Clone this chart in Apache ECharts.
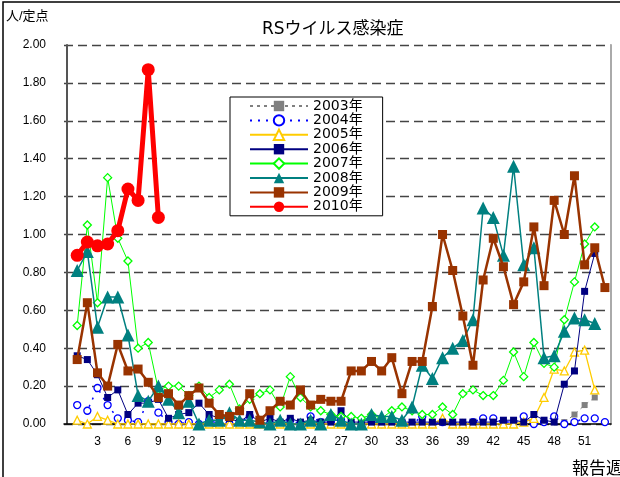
<!DOCTYPE html>
<html>
<head>
<meta charset="utf-8">
<script src="https://cdn.jsdelivr.net/npm/echarts@6/dist/echarts.min.js"></script>
<style>
  html, body { margin: 0; padding: 0; background: #fff; }
  #main { width: 620px; height: 477px; }
</style>
</head>
<body>
<div id="main"></div>
<script>
const weeks = [1, 2, 3, 4, 5, 6, 7, 8, 9, 10, 11, 12, 13, 14, 15, 16, 17, 18, 19, 20,
  21, 22, 23, 24, 25, 26, 27, 28, 29, 30, 31, 32, 33, 34, 35, 36, 37, 38, 39, 40,
  41, 42, 43, 44, 45, 46, 47, 48, 49, 50, 51, 52, 53]
const weekLabels = [3, 6, 9, 12, 15, 18, 21, 24, 27, 30, 33, 36, 39, 42, 45, 48, 51]
const yearNames = ['2003年', '2004年', '2005年', '2006年', '2007年', '2008年', '2009年', '2010年']

const y2003 = [null, null, null, null, null, null, null, null, null, null,
  null, null, null, null, null, null, null, null, null, null,
  null, null, null, null, null, null, null, null, null, null,
  null, null, null, null, null, null, null, null, null, null,
  null, null, null, null, null, null, null, null, 0.01, 0.05,
  0.10, 0.14, null]
const y2004 = [0.10, 0.07, 0.19, 0.10, 0.03, 0.02, 0.01, 0.12, 0.06, 0.01,
  0.00, 0.01, 0.00, 0.02, 0.00, 0.00, 0.01, 0.04, 0.00, 0.00,
  0.01, 0.02, 0.00, 0.04, 0.01, 0.01, 0.02, 0.00, 0.00, 0.01,
  0.00, 0.01, 0.01, 0.00, 0.04, 0.00, 0.01, 0.00, 0.00, 0.01,
  0.03, 0.03, 0.01, 0.01, 0.04, 0.00, 0.01, 0.04, 0.00, 0.01,
  0.03, 0.03, 0.01]
const y2005 = [0.02, 0.00, 0.04, 0.02, 0.00, 0.00, 0.00, 0.00, 0.00, 0.00,
  0.00, 0.00, 0.00, 0.00, 0.00, 0.00, 0.00, 0.00, 0.00, 0.00,
  0.00, 0.00, 0.00, 0.00, 0.00, 0.00, 0.00, 0.00, 0.00, 0.00,
  0.00, 0.00, 0.00, 0.00, 0.00, 0.00, 0.03, 0.00, 0.00, 0.00,
  0.00, 0.00, 0.00, 0.00, 0.01, 0.03, 0.14, 0.29, 0.28, 0.38,
  0.39, 0.18, null]
const y2006 = [0.36, 0.34, 0.26, 0.14, 0.18, 0.05, 0.11, 0.11, 0.13, 0.03,
  0.05, 0.06, 0.11, 0.05, 0.03, 0.03, 0.01, 0.05, 0.01, 0.03,
  0.01, 0.03, 0.01, 0.02, 0.01, 0.01, 0.07, 0.01, 0.01, 0.01,
  0.01, 0.01, 0.01, 0.01, 0.01, 0.01, 0.01, 0.01, 0.01, 0.01,
  0.01, 0.01, 0.02, 0.02, 0.01, 0.05, 0.02, 0.01, 0.21, 0.28,
  0.70, 0.90, null]
const y2007 = [0.52, 1.05, 0.64, 1.30, 0.98, 0.86, 0.40, 0.43, 0.18, 0.20,
  0.20, 0.15, 0.20, 0.14, 0.18, 0.21, 0.08, 0.13, 0.16, 0.18,
  0.09, 0.25, 0.14, 0.09, 0.07, 0.05, 0.04, 0.04, 0.03, 0.05,
  0.03, 0.07, 0.09, 0.07, 0.05, 0.05, 0.09, 0.05, 0.16, 0.18,
  0.15, 0.15, 0.23, 0.38, 0.25, 0.43, 0.32, 0.30, 0.55, 0.75,
  0.95, 1.04, null]
const y2008 = [0.81, 0.91, 0.51, 0.67, 0.67, 0.47, 0.15, 0.12, 0.20, 0.13,
  0.06, 0.12, 0.00, 0.02, 0.02, 0.06, 0.02, 0.02, 0.01, 0.00,
  0.02, 0.00, 0.00, 0.02, 0.00, 0.05, 0.02, 0.00, 0.00, 0.05,
  0.04, 0.04, 0.02, 0.09, 0.31, 0.24, 0.35, 0.40, 0.44, 0.55,
  1.14, 1.09, 0.89, 1.36, 0.84, 0.93, 0.35, 0.36, 0.49, 0.56,
  0.55, 0.53, null]
const y2009 = [0.34, 0.64, 0.27, 0.20, 0.42, 0.28, 0.29, 0.22, 0.14, 0.16,
  0.10, 0.15, 0.19, 0.11, 0.05, 0.04, 0.07, 0.16, 0.02, 0.07,
  0.12, 0.10, 0.18, 0.10, 0.13, 0.12, 0.12, 0.28, 0.28, 0.33,
  0.28, 0.35, 0.16, 0.33, 0.33, 0.62, 1.00, 0.81, 0.57, 0.31,
  0.76, 0.98, 0.83, 0.63, 0.75, 1.04, 0.73, 1.18, 1.00, 1.31,
  0.84, 0.93, 0.72]
const y2010 = [0.89, 0.96, 0.94, 0.95, 1.02, 1.24, 1.18, 1.87, 1.09]

const font = "'Liberation Sans', 'Noto Sans CJK JP', sans-serif"
const wideFont = "'DejaVu Sans', 'Noto Sans CJK JP', sans-serif"

const toPoints = (vals) => {
  const pts = []
  for (let i = 0; i < vals.length; i++) {
    if (vals[i] !== null) pts.push([weeks[i], vals[i]])
  }
  return pts
}

// 系列ごとの見た目
const looks = [
  { color: '#808080', symbol: 'rect', size: 6, width: 1, type: [3, 4], hollow: false },
  { color: '#0000FF', symbol: 'circle', size: 7, width: 1.5, type: [2, 6], hollow: true },
  { color: '#FFCC00', symbol: 'triangle', size: 8, width: 1.3, type: 'solid', hollow: true },
  { color: '#000080', symbol: 'rect', size: 7, width: 1, type: 'solid', hollow: false },
  { color: '#00FF00', symbol: 'diamond', size: 8, width: 1, type: 'solid', hollow: true },
  { color: '#008080', symbol: 'triangle', size: 13, width: 1.5, type: 'solid', hollow: false },
  { color: '#993300', symbol: 'rect', size: 9, width: 2.5, type: 'solid', hollow: false },
  { color: '#FF0000', symbol: 'circle', size: 13, width: 5, type: 'solid', hollow: false }
]
const values = [y2003, y2004, y2005, y2006, y2007, y2008, y2009, y2010]

const series = values.map((vals, i) => {
  const lk = looks[i]
  return {
    name: yearNames[i],
    type: 'line',
    data: toPoints(vals),
    symbol: lk.symbol,
    symbolSize: lk.size,
    lineStyle: { color: lk.color, width: lk.width, type: lk.type },
    itemStyle: lk.hollow
      ? { color: '#fff', borderColor: lk.color, borderWidth: 1.3 }
      : { color: lk.color, borderColor: lk.color, borderWidth: 0 },
    emphasis: { disabled: true },
    z: 2 + i
  }
})

const chart = echarts.init(document.getElementById('main'), null, { renderer: 'canvas' })
chart.setOption({
  animation: false,
  backgroundColor: '#fff',
  textStyle: { fontFamily: font },
  title: {
    text: 'RSウイルス感染症',
    left: 257,
    top: 16,
    textStyle: { fontSize: 17, fontWeight: 'normal', color: '#000', fontFamily: wideFont }
  },
  graphic: [
    {
      type: 'rect',
      shape: { x: 3, y: 2, width: 700, height: 600 },
      style: { fill: null, stroke: '#000', lineWidth: 1.5 },
      silent: true
    },
    {
      type: 'text',
      left: 6,
      top: 10,
      style: { text: '人/定点', fill: '#000', font: '13px ' + font }
    },
    {
      type: 'text',
      left: 572,
      top: 461,
      style: { text: '報告週', fill: '#000', font: '17px ' + font }
    }
  ],
  legend: {
    orient: 'vertical',
    left: 230,
    top: 97,
    padding: [2, 20, 2, 19],
    backgroundColor: '#fff',
    borderColor: '#000',
    borderWidth: 1,
    itemWidth: 58,
    itemHeight: 13,
    itemGap: 0.4,
    data: yearNames,
    textStyle: { fontSize: 14, color: '#000', lineHeight: 14, fontFamily: wideFont },
    selectedMode: false
  },
  grid: { left: 64, right: 9, top: 45, bottom: 53 },
  xAxis: {
    type: 'value',
    min: -0.3,
    max: 53.6,
    axisLine: { show: true, onZero: false, lineStyle: { color: '#000', width: 1.5 } },
    axisTick: { show: false },
    splitLine: { show: false },
    axisLabel: {
      customValues: weekLabels,
      color: '#000',
      fontSize: 12,
      margin: 12,
      formatter: (v) => (weekLabels.includes(v) ? String(v) : '')
    }
  },
  yAxis: [
    {
      type: 'value',
      min: 0,
      max: 2,
      interval: 0.2,
      axisLine: { show: true, lineStyle: { color: '#555', width: 2 } },
      axisTick: { show: false },
      axisLabel: {
        color: '#000',
        fontSize: 12,
        margin: 18,
        formatter: (v) => v.toFixed(2)
      },
      splitLine: { show: true, lineStyle: { color: '#444', width: 1.3, type: [9, 5] } }
    },
    {
      type: 'value',
      position: 'right',
      min: 0,
      max: 2,
      interval: 0.2,
      axisLine: { show: true, lineStyle: { color: '#aaa', width: 2 } },
      axisTick: { show: false },
      axisLabel: { show: false },
      splitLine: { show: false }
    }
  ],
  series: series
})
</script>
</body>
</html>
